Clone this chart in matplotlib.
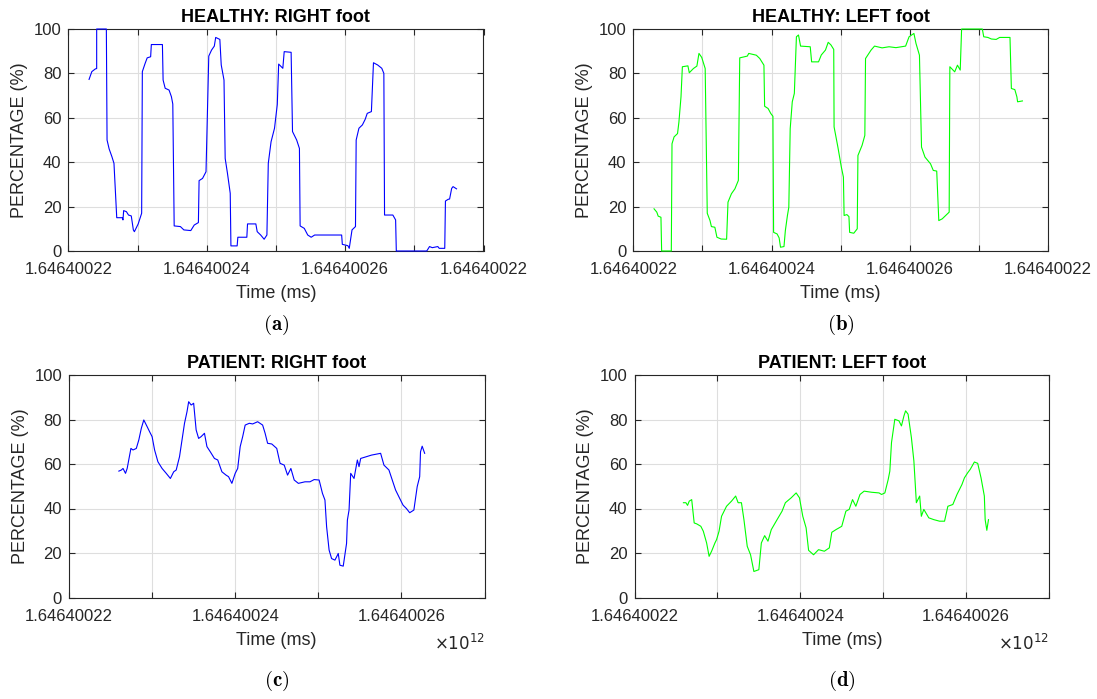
import matplotlib
matplotlib.use("Agg")
import matplotlib.pyplot as plt
import numpy as np

plt.rcParams['font.family'] = ['Liberation Sans', 'DejaVu Sans']

# ---------------- data ----------------
# time offsets in units of 1e4 ms after T0, percentage values
T0 = 1.64640022e12
UNIT = 1e4

healthy_right_t = [0.30,0.34,0.39,0.41,0.41,0.55,0.56,0.59,0.63,0.66,0.70,0.78,0.79,0.80,0.84,0.87,0.91,0.94,0.955,1.01,1.06,1.07,1.11,1.14,1.19,1.20,1.36,1.37,1.40,1.456,1.49,1.51,1.53,1.62,1.67,1.77,1.82,1.88,1.89,1.94,1.99,2.03,2.07,2.11,2.13,2.19,2.21,2.25,2.267,2.30,2.34,2.35,2.44,2.45,2.58,2.59,2.71,2.73,2.78,2.83,2.87,2.89,2.93,2.98,3.02,3.04,3.10,3.12,3.22,3.24,3.30,3.34,3.35,3.41,3.46,3.51,3.56,3.95,3.96,4.04,4.06,4.10,4.15,4.16,4.20,4.25,4.29,4.32,4.38,4.41,4.47,4.53,4.56,4.57,4.69,4.73,4.74,5.18,5.22,5.26,5.34,5.36,5.44,5.45,5.49,5.51,5.54,5.56,5.61]
healthy_right_v = [77.3,80.8,82,82.2,100,100,50,46,42.5,39.5,15,15,14,18.2,17.7,16.2,15.8,9.5,8.7,12.2,17,80.8,84.5,87,87.5,93,93,77,73.3,72.5,69.5,66.2,11.3,11,9.5,9.2,11.7,12.8,31.7,32.7,35.7,87.8,90.5,92.3,96.2,95.3,83.8,77,41.7,35,26,2.3,2.3,6.2,6.2,12.2,12.2,8.7,7.2,5.3,7.2,39.5,49.2,55.3,66,84.2,82.3,89.8,89.5,53.8,50,46.2,11.3,10.2,7.2,6.2,7.2,7.2,3,2.4,1.2,9.5,11,50,55.3,56.8,59.3,62,62.8,84.8,83.8,82.3,80,16.2,16.2,14,0,0,2,1.5,2,1.2,1.2,22.5,23.3,23.4,28.2,29,28]

healthy_left_t = [0.30,0.34,0.36,0.40,0.41,0.55,0.56,0.59,0.64,0.66,0.69,0.71,0.79,0.81,0.87,0.92,0.95,0.99,1.04,1.07,1.11,1.13,1.18,1.21,1.27,1.35,1.37,1.42,1.47,1.52,1.54,1.65,1.67,1.78,1.83,1.89,1.90,1.95,1.99,2.02,2.03,2.08,2.11,2.13,2.18,2.20,2.23,2.25,2.27,2.30,2.33,2.36,2.39,2.42,2.56,2.58,2.68,2.72,2.78,2.82,2.86,2.90,2.905,2.96,3.01,3.04,3.05,3.09,3.12,3.13,3.19,3.24,3.25,3.31,3.35,3.36,3.44,3.49,3.60,3.70,3.80,3.94,3.99,4.06,4.09,4.14,4.17,4.22,4.30,4.34,4.39,4.42,4.47,4.52,4.57,4.58,4.65,4.69,4.73,4.75,5.05,5.07,5.13,5.18,5.25,5.30,5.45,5.47,5.52,5.55,5.56,5.63]
healthy_left_v = [19,17.5,15.7,15.2,0,0,48.3,51.4,52.9,58.1,69.4,83,83.4,80.3,82.2,83.3,89,87.2,82.2,17,13.7,11,10.7,6.2,5.4,5.3,22,25.8,28,31.8,87,87.8,89,88.2,86.7,83.7,65.2,64.2,61.9,60.7,8.4,7.7,5.9,1.7,2,9.2,16,19.7,55.1,67.2,71,96.5,97.3,92.3,92,85.2,85.2,88.3,90.5,94,92.8,90.8,55.9,46.8,37.8,33.3,16,16.4,15.5,8.4,8,10,43,47.6,52.1,86.7,90.5,92.3,91.5,92,91.6,92.3,96.5,98,93.5,88.2,46.8,42.3,39.3,36.3,36,13.7,14.5,16,17.5,83,80.7,83.7,81.5,100,100,96.5,96.2,95.5,95.3,96.2,96.2,73.2,72.7,69.4,67.2,67.6]

patient_right_t = [0.60,0.63,0.65,0.68,0.70,0.745,0.77,0.81,0.84,0.87,0.90,0.94,0.97,1.00,1.03,1.07,1.12,1.17,1.22,1.26,1.29,1.33,1.36,1.39,1.42,1.44,1.47,1.50,1.53,1.56,1.59,1.63,1.66,1.70,1.75,1.79,1.84,1.89,1.92,1.96,2.00,2.03,2.06,2.09,2.12,2.17,2.21,2.27,2.33,2.36,2.39,2.44,2.50,2.54,2.59,2.63,2.67,2.71,2.76,2.84,2.90,2.95,3.01,3.05,3.08,3.10,3.13,3.16,3.20,3.23,3.24,3.26,3.30,3.34,3.35,3.37,3.39,3.43,3.47,3.49,3.51,3.58,3.64,3.75,3.79,3.85,3.89,3.93,3.98,4.02,4.06,4.10,4.15,4.19,4.22,4.23,4.25,4.28]
patient_right_v = [56.8,57.3,58,55.8,58,67,66.3,67,70.8,76,79.8,76.8,74.5,72.3,66.3,61,58,55.8,53.5,56.5,57.3,63.3,70.8,78.3,83.5,88,86.5,87.3,75.3,71.5,72.3,73.8,67.8,65.5,62.5,61.8,56.5,55,54.3,51.3,55.8,58,67.8,72.3,77.5,78.3,78,79,77.5,73.8,69.3,69,67,60.3,59.5,55,58,52.8,51.3,52,52,53,52.8,46.8,43.8,31.8,21.3,17.5,16.8,19,19.8,14.5,14.1,24.3,34.8,39.3,55.8,53.5,61.8,58.8,62.5,63.3,64,64.8,59.5,57.3,52.8,48.3,44.5,41.5,40,38.1,39.3,49.8,54.3,65.5,68,64.8]

patient_left_t = [0.59,0.62,0.64,0.66,0.69,0.72,0.75,0.80,0.83,0.87,0.90,0.93,0.97,0.99,1.02,1.05,1.11,1.17,1.22,1.25,1.29,1.32,1.36,1.40,1.44,1.50,1.53,1.57,1.61,1.65,1.72,1.78,1.82,1.89,1.95,1.99,2.03,2.07,2.10,2.16,2.22,2.29,2.35,2.38,2.43,2.50,2.55,2.59,2.63,2.67,2.72,2.77,2.86,2.95,2.98,3.02,3.06,3.08,3.10,3.14,3.19,3.22,3.25,3.27,3.30,3.34,3.37,3.40,3.44,3.46,3.49,3.55,3.61,3.68,3.74,3.78,3.84,3.89,3.95,3.98,4.02,4.05,4.10,4.14,4.18,4.22,4.23,4.25,4.27]
patient_left_v = [42.6,42.6,41.4,43.3,44,33.5,33.1,32,29.8,24.5,18.5,20.8,24.5,26,29.8,36.5,41,43.3,45.6,42.6,42.6,35,23,19.2,11.7,12.5,24.5,27.8,25.3,30.5,35,38.8,42.6,44.8,47,44.8,36.5,31.3,21.2,19.2,21.5,20.8,22.3,29.3,30.5,32,38.8,39.6,44,41,46.3,47.8,47.3,47,46.3,47,53,56.8,69.6,80.1,79.4,77.1,81.6,83.9,82.4,71.9,61.4,42.6,45.6,36.5,39.6,35.8,35,34.3,34.3,41,41.8,46.3,50.8,53.8,56.1,57.6,60.9,60.3,53.8,45.6,35,30.2,35]

titles = ["HEALTHY: RIGHT foot", "HEALTHY: LEFT foot",
          "PATIENT: RIGHT foot", "PATIENT: LEFT foot"]
sub_labels = ["a", "b", "c", "d"]
top_tick_labels = ["1.64640022", "", "1.64640024", "", "1.64640026", "", "1.64640022"]
bottom_tick_labels = ["1.64640022", "", "1.64640024", "", "1.64640026", ""]
y_ticks = [0, 20, 40, 60, 80, 100]

BLUE = (0, 0, 1)
GREEN = (0, 1, 0)
AX_COL = "#262626"

W, H = 1097, 699
fig = plt.figure(figsize=(W / 100, H / 100), dpi=100)

def rect(l, r, t, b):
    return [l / W, 1 - b / H, (r - l) / W, (b - t) / H]

rects = [rect(68.3, 483.5, 29, 251), rect(633.3, 1048, 29, 251),
         rect(69, 484.5, 375, 597.5), rect(634.5, 1049, 375, 597.5)]

series = [(healthy_right_t, healthy_right_v, BLUE, top_tick_labels),
          (healthy_left_t, healthy_left_v, GREEN, top_tick_labels),
          (patient_right_t, patient_right_v, BLUE, bottom_tick_labels),
          (patient_left_t, patient_left_v, GREEN, bottom_tick_labels)]

for i, (rc, (t, v, col, tl)) in enumerate(zip(rects, series)):
    ax = fig.add_axes(rc)
    x = T0 + np.asarray(t) * UNIT
    ax.plot(x, v, color=col, lw=0.8, clip_on=False, zorder=3)
    n = len(tl) - 1
    ax.set_xlim(T0, T0 + n * UNIT)
    ax.set_ylim(0, 100)
    ax.set_xticks([T0 + k * UNIT for k in range(n + 1)])
    ax.set_xticklabels(tl)
    ax.set_yticks(y_ticks)
    ax.grid(True, color="#dedede", lw=0.8)
    ax.set_axisbelow(True)
    for s in ax.spines.values():
        s.set_color(AX_COL)
        s.set_linewidth(0.8)
    ax.tick_params(direction="in", length=4, width=0.8, color=AX_COL,
                   labelcolor=AX_COL, labelsize=12, top=True, right=True)
    ax.tick_params(axis="x", pad=8)
    ax.tick_params(axis="y", pad=5)
    ax.set_title(titles[i], fontsize=13, fontweight="bold", color="black", pad=5)
    ax.set_xlabel("Time (ms)", fontsize=13, color=AX_COL, labelpad=6)
    ax.set_ylabel("PERCENTAGE (%)", fontsize=13, color=AX_COL, labelpad=4)
    if i >= 2:
        ax.text(1.0, -0.205, r"$\times10^{12}$", transform=ax.transAxes,
                ha="right", va="center", fontsize=12, color=AX_COL,
                math_fontfamily="dejavusans")
    cx = (rc[0] + rc[2] / 2)
    cy = 1 - (325 if i < 2 else 680.5) / H
    fig.text(cx, cy, r"$(\mathbf{" + sub_labels[i] + r"})$", ha="center",
             va="center", fontsize=15, math_fontfamily="cm")

fig.savefig("out.png", dpi=100)
